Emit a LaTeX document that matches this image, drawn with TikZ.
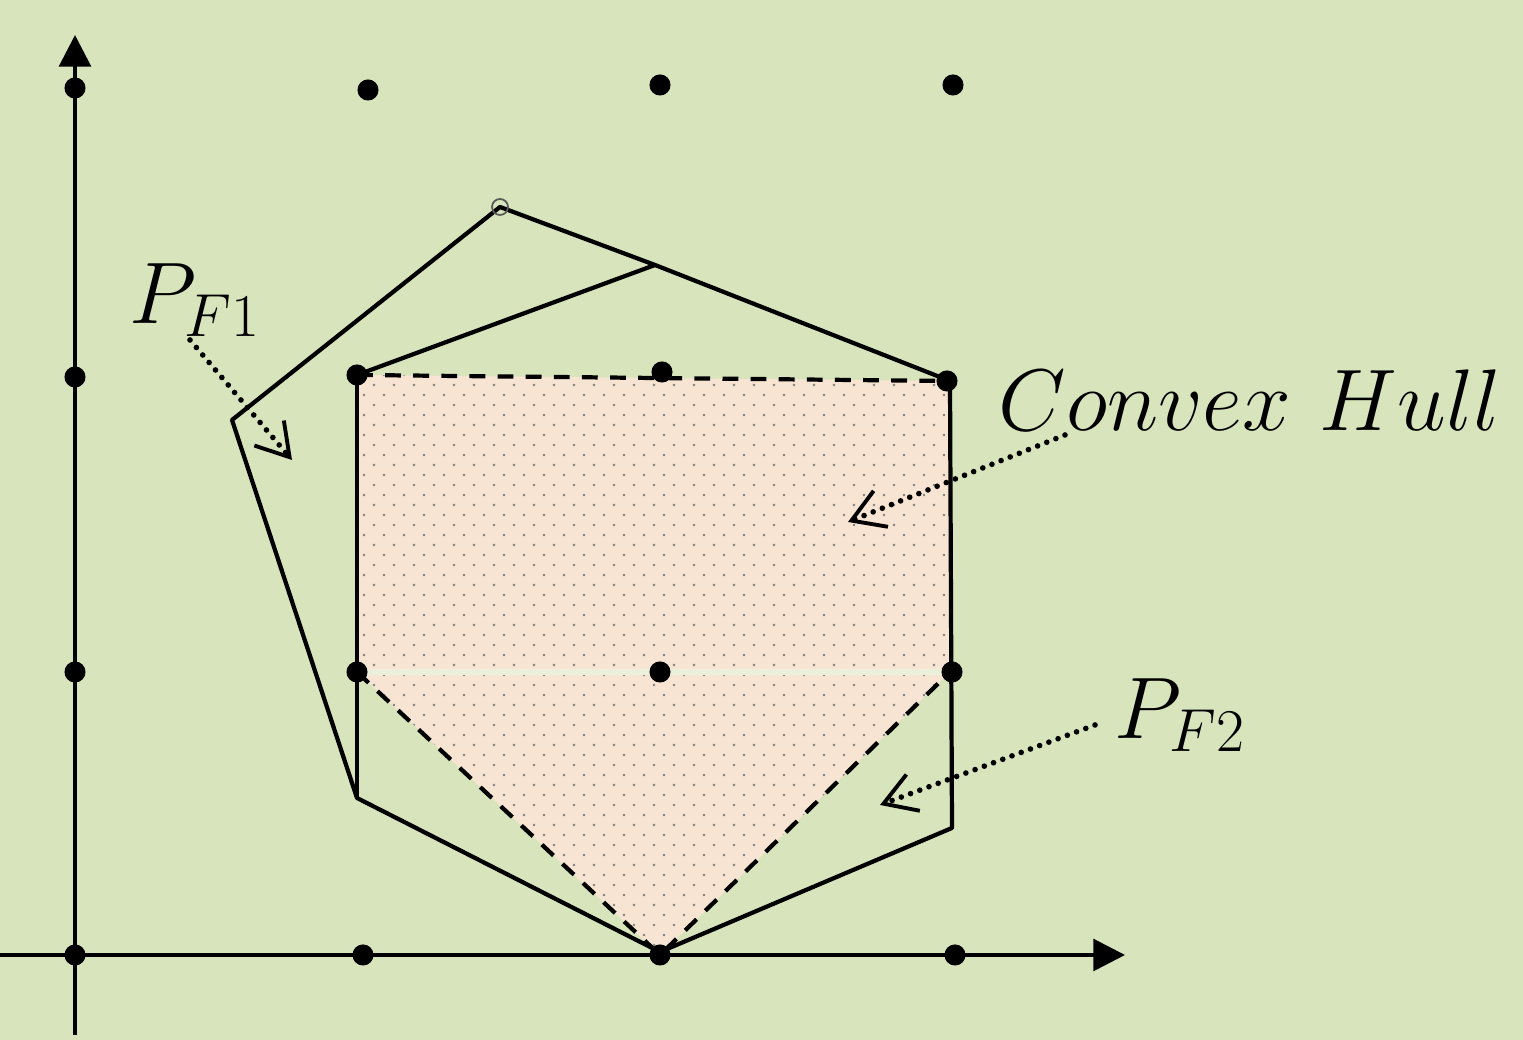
\documentclass[tikz,border=0pt]{standalone}
\usepackage{amsmath,amssymb}
\usetikzlibrary{arrows.meta, patterns.meta}
\definecolor{bggreen}{HTML}{D8E4BC}
\definecolor{hullfill}{HTML}{F7E4D2}

\tikzdeclarepattern{
  name=hulldots, type=uncolored,
  bounding box={(0,0) and (0.2,0.2)},
  tile size={(0.2,0.2)},
  code={
    \fill (0.05,0.05) circle (0.013);
    \fill (0.15,0.15) circle (0.013);
  }
}

\tikzset{
  lattice/.style={circle, fill=black, inner sep=0pt, minimum size=6pt},
  axis/.style={line width=1.1pt, -{Triangle[length=9pt, width=9pt]}},
  edge/.style={line width=1.2pt, line join=round},
  hulledge/.style={line width=1.2pt, dash pattern=on 4.5pt off 3.5pt},
  pointer/.style={line width=1.6pt, line cap=round, dash pattern=on 0pt off 2.8pt,
    -{Straight Barb[length=9pt, width=11pt, line width=1.1pt]}},
  bigtext/.style={font=\fontsize{27}{30}\selectfont, inner sep=0pt}
}

\begin{document}
\begin{tikzpicture}
\useasboundingbox (0,0) rectangle (15.23,10.40);
\fill[bggreen] (0,0) rectangle (15.23,10.40);

% polygon corners
\coordinate (A) at (5.00,8.33);
\coordinate (B) at (2.32,6.20);
\coordinate (C) at (3.57,2.42);
\coordinate (D) at (6.60,0.88);
\coordinate (E) at (9.52,2.12);
\coordinate (F) at (9.50,6.59);
\coordinate (G) at (6.55,7.75);
\coordinate (H) at (3.57,6.65);
\coordinate (L) at (3.57,3.68);
\coordinate (R) at (9.50,3.68);
\coordinate (V) at (6.60,0.85);

% convex hull
\fill[pattern=hulldots, pattern color=gray, preaction={fill=hullfill}]
  (H) -- (F) -- (R) -- (V) -- (L) -- cycle;
\draw[bggreen!55!white, line width=1.5pt] (L) -- (R);
\draw[hulledge] (H) -- (F);
\draw[hulledge] (L) -- (V) -- (R);

% the two polytopes
\draw[edge] (A) -- (B) -- (C) -- (D) -- (E) -- (F) -- (G) -- cycle;
\draw[edge] (H) -- (G);
\draw[edge] (H) -- (C);

% axes
\draw[axis] (0,0.85) -- (11.25,0.85);
\draw[axis] (0.75,0.05) -- (0.75,10.05);

% lattice points
\foreach \n/\x/\y in {p00/0.75/0.85, p10/3.63/0.85, p20/6.60/0.85, p30/9.55/0.85,
                     p01/0.75/3.68, p11/3.57/3.68, p21/6.60/3.68, p31/9.52/3.68,
                     p02/0.75/6.63, p12/3.57/6.65, p22/6.62/6.68, p32/9.47/6.59,
                     p03/0.75/9.52, p13/3.68/9.50, p23/6.60/9.55, p33/9.53/9.55}
  \node[lattice] (\n) at (\x,\y) {};
\draw[gray!70!black, line width=0.5pt] (A) circle (0.08);

% labels
\node[bigtext] (pf1) at (1.95,7.40) {$P_{F1}$};
\node[bigtext] (hull) at (12.50,6.40) {$Convex\ Hull$};
\node[bigtext] (pf2) at (11.80,3.25) {$P_{F2}$};

\coordinate (pf1tail) at (1.90,7.00);
\coordinate (pf1head) at (2.92,5.80);
\coordinate (hulltail) at (10.65,6.05);
\coordinate (hullhead) at (8.48,5.18);
\coordinate (pf2tail) at (10.95,3.15);
\coordinate (pf2head) at (8.80,2.35);
\draw[pointer] (pf1tail) -- (pf1head);
\draw[pointer] (hulltail) -- (hullhead);
\draw[pointer] (pf2tail) -- (pf2head);
\end{tikzpicture}
\end{document}
